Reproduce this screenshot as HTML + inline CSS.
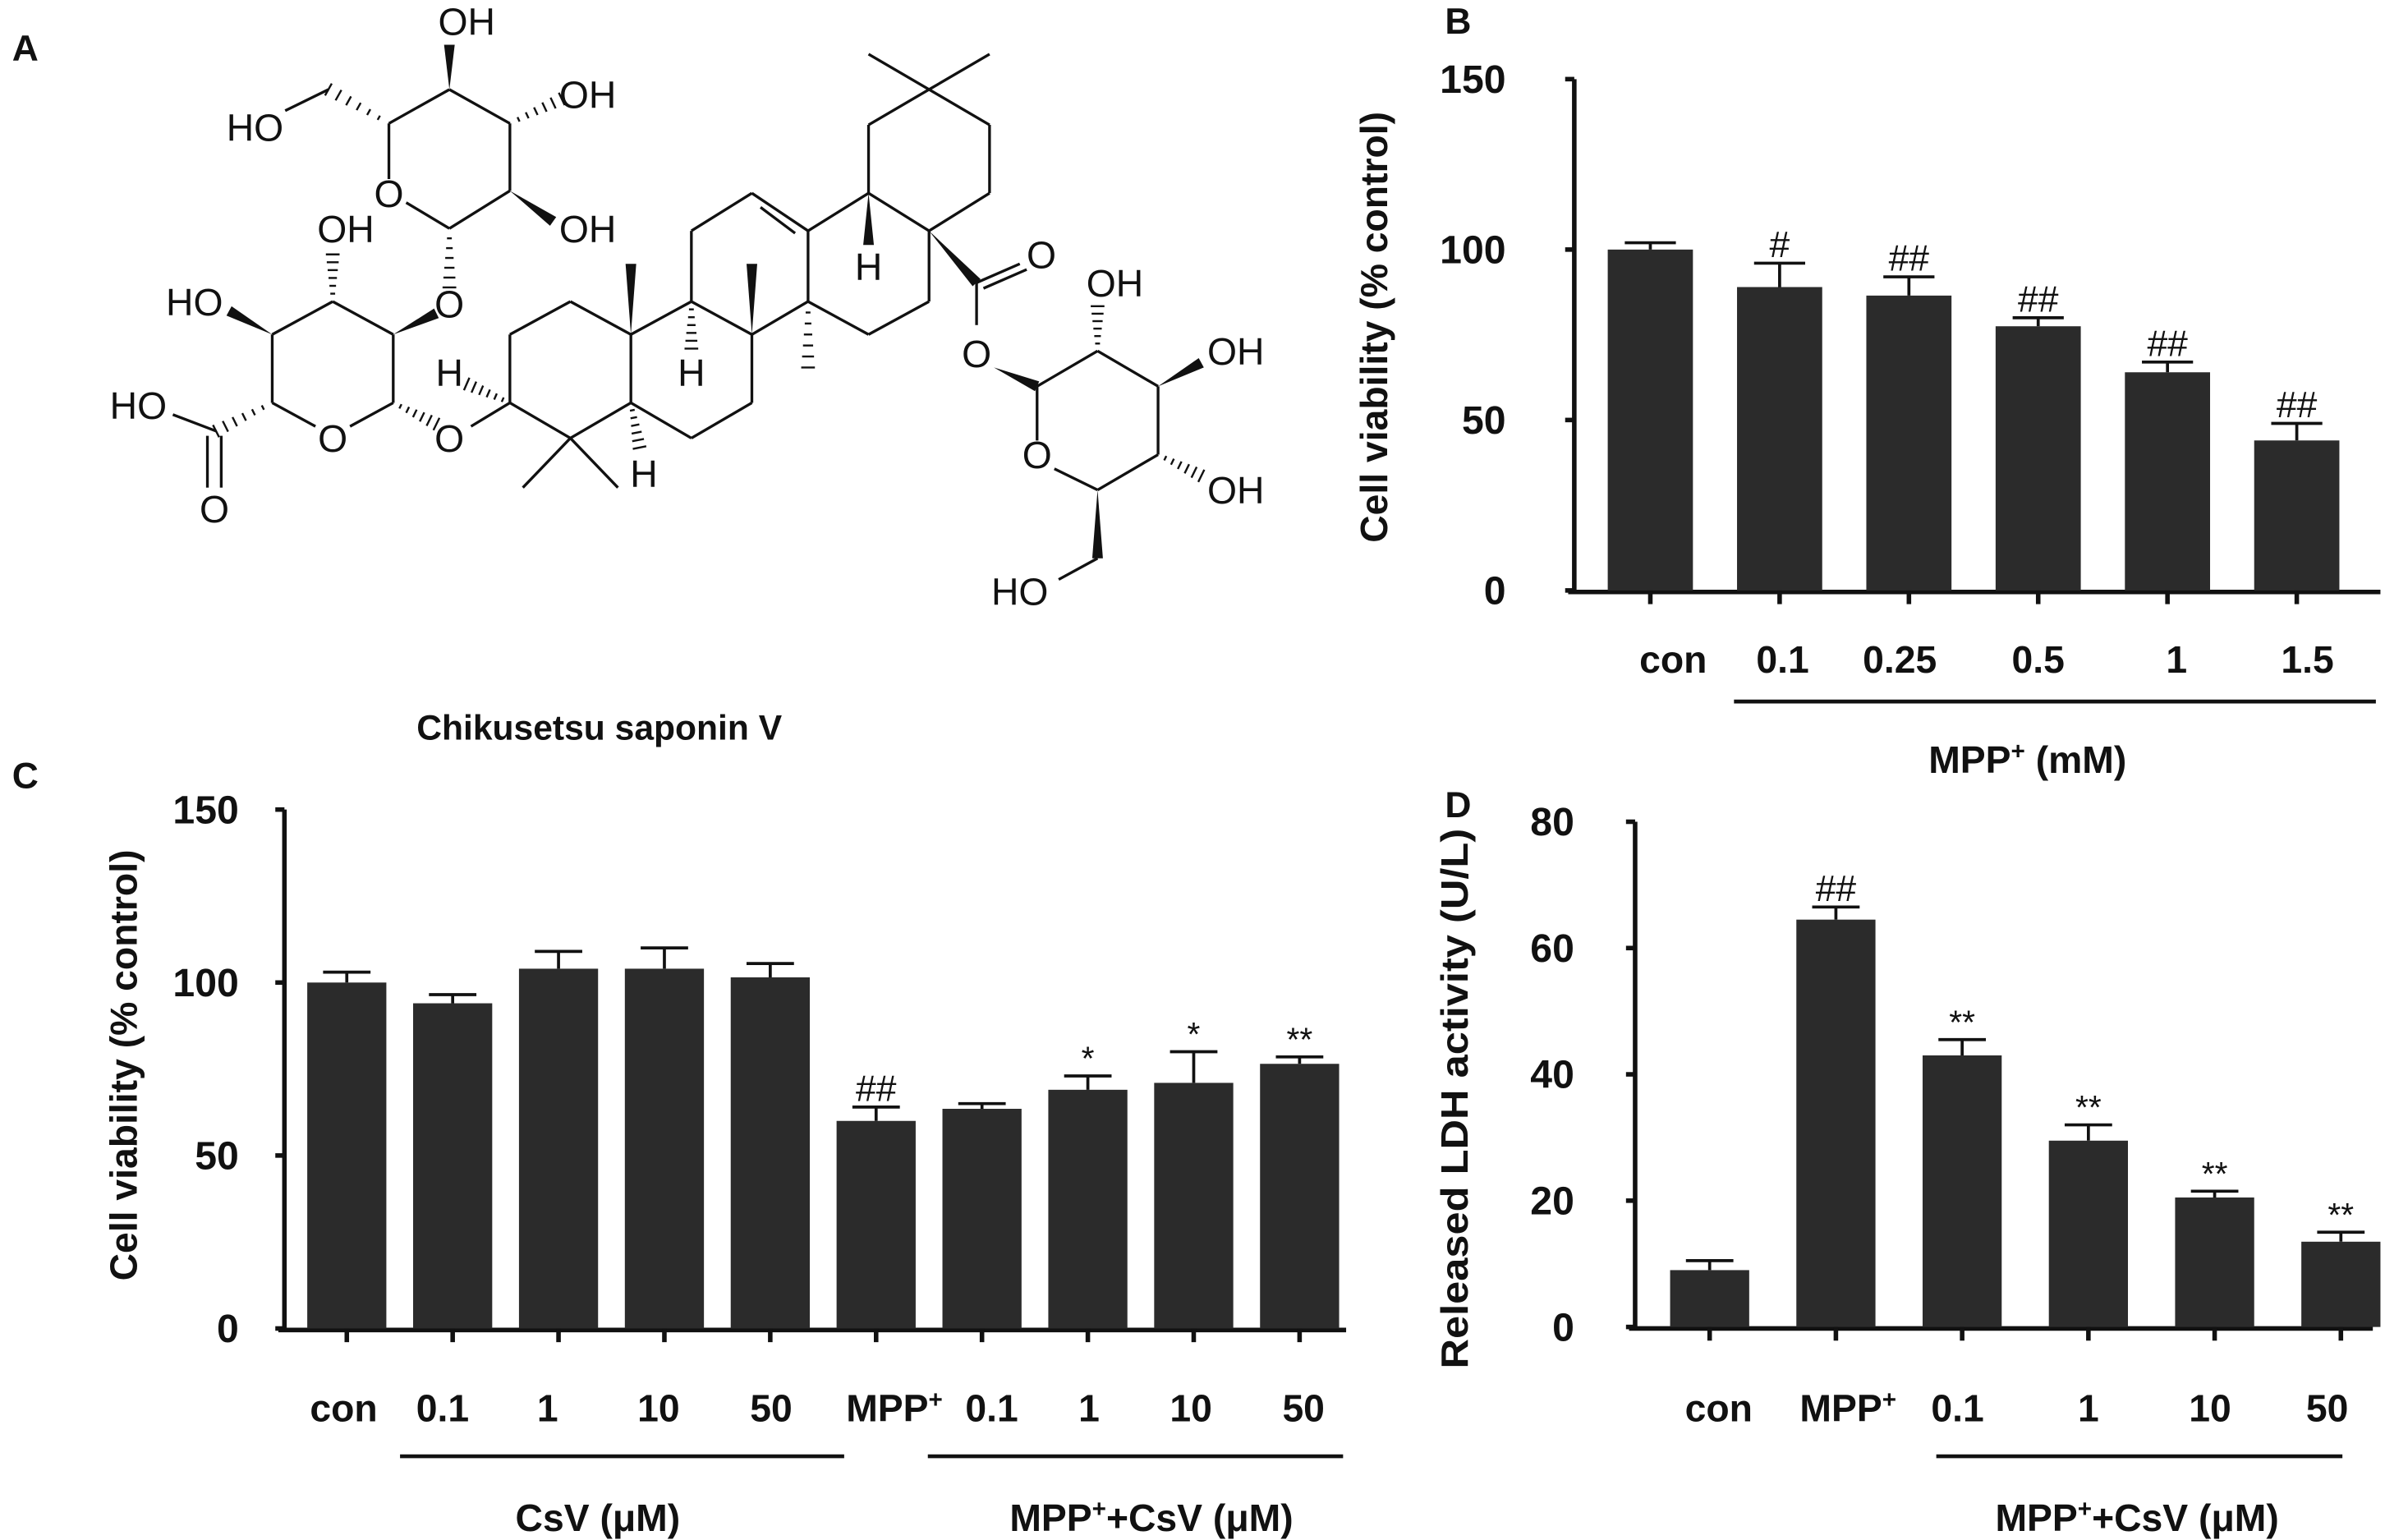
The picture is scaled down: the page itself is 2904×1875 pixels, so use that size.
<!DOCTYPE html>
<html><head><meta charset="utf-8">
<style>
html,body{margin:0;padding:0;background:#fff;}
svg{display:block;}
text{font-family:"Liberation Sans",sans-serif;fill:#111;}
.b{font-weight:bold;}
</style></head>
<body>
<svg id="fig" width="2904" height="1875" viewBox="0 0 1568 1012" preserveAspectRatio="none" xmlns="http://www.w3.org/2000/svg">
<g id="mol"></g>
<g id="pB"></g>
<g id="pC"></g>
<g id="pD"></g>
<text x="8" y="40" class="b" font-size="24">A</text>
<text x="950" y="22" class="b" font-size="24">B</text>
<text x="8" y="518" class="b" font-size="24">C</text>
<text x="950" y="537" class="b" font-size="24">D</text>
<text x="394" y="486" class="b" font-size="23" text-anchor="middle">Chikusetsu saponin V</text>
</svg>
<script>
// ---- Panel B data ----
const bCats=["con","0.1","0.25","0.5","1","1.5"];
const bVals=[100,89,86.5,77.5,64,44];
const bErrs=[2,7,5.5,2.5,3,5];
const bMarks=["","#","##","##","##","##"];
const bTicks=[0,50,100,150];
// ---- Panel C data ----
const cCats=["con","0.1","1","10","50","MPP+","0.1","1","10","50"];
const cVals=[100,94,104,104,101.5,60,63.5,69,71,76.5];
const cErrs=[3,2.5,5,6,4,4,1.5,4,9,2];
const cMarks=["","","","","","##","","*","*","**"];
const cTicks=[0,50,100,150];
// ---- Panel D data ----
const dCats=["con","MPP+","0.1","1","10","50"];
const dVals=[9,64.5,43,29.5,20.5,13.5];
const dErrs=[1.5,2,2.5,2.5,1,1.5];
const dMarks=["","##","**","**","**","**"];
const dTicks=[0,20,40,60,80];

const NS="http://www.w3.org/2000/svg";
function mk(parent,tag,attrs,txt){const e=document.createElementNS(NS,tag);for(const k in attrs)e.setAttribute(k,attrs[k]);if(txt!==undefined)e.textContent=txt;parent.appendChild(e);return e;}

function chart(g,cfg){
  const y=v=>cfg.y0-(v-0)*(cfg.y0-cfg.yTop)/cfg.max;
  const x=i=>cfg.x0c+i*cfg.step;
  let ax=mk(g,'line',{x1:cfg.ax,y1:cfg.yTop,x2:cfg.ax,y2:cfg.y0+2,stroke:'#111','stroke-width':3});
  
  
  let xa=mk(g,'line',{x1:cfg.ax-4,y1:cfg.y0+1,x2:cfg.xEnd,y2:cfg.y0+1,stroke:'#111','stroke-width':3});
  
  
  cfg.ticks.forEach(t=>{
    const tk=mk(g,'line',{x1:cfg.ax-6,y1:y(t),x2:cfg.ax,y2:y(t),stroke:'#111','stroke-width':3});
    
    
    const tl=mk(g,'text',{x:cfg.ax-cfg.tlOff,y:y(t)+9,'text-anchor':'end','font-size':26,'class':'b'},String(t));
    
    
  });
  cfg.vals.forEach((v,i)=>{
    const cx=x(i);
    const er=mk(g,'path',{d:`M${cx} ${y(v)} V${y(v+cfg.errs[i])} M${cx-cfg.w*0.3} ${y(v+cfg.errs[i])} H${cx+cfg.w*0.3}`,stroke:'#111','stroke-width':2,fill:'none'});
    
    
    const r=mk(g,'rect',{x:cx-cfg.w/2,y:y(v),width:cfg.w,height:y(0)-y(v),fill:'#2b2b2b'});
    
    
    const tk=mk(g,'line',{x1:cx,y1:cfg.y0,x2:cx,y2:cfg.y0+9,stroke:'#111','stroke-width':3});
    
    
    if(cfg.marks[i]){
      const m=mk(g,'text',{x:cx,y:y(v+cfg.errs[i])-4,'text-anchor':'middle','font-size':cfg.marks[i][0]=='*'?22:24},cfg.marks[i]);
      
      
    }
    const lx=cfg.labelX?cfg.labelX[i]:cx;
    const lab=cfg.cats[i]=="MPP+"?null:cfg.cats[i];
    let t;
    if(lab===null){t=mk(g,'text',{x:lx,y:cfg.labY,'text-anchor':'middle','font-size':25,'class':'b'});t.textContent="MPP";mk(t,'tspan',{'font-size':16,dy:-9},"+");}
    else t=mk(g,'text',{x:lx,y:cfg.labY,'text-anchor':'middle','font-size':25,'class':'b'},lab);
    
    
  });
  const ta={x:0,y:0,transform:`translate(${cfg.titleX},${cfg.titleY}) rotate(-90)`,'text-anchor':'middle','font-size':25,'class':'b'};
  if(cfg.titleLen){ta.textLength=cfg.titleLen;ta.lengthAdjust='spacingAndGlyphs';}
  const yt=mk(g,'text',ta,cfg.title);
  
  
}
function grp(g,x1,x2,yl,ty,parts,cx){
  const l=mk(g,'line',{x1:x1,y1:yl,x2:x2,y2:yl,stroke:'#111','stroke-width':2.5});
  
  
  const t=mk(g,'text',{x:cx,y:ty,'text-anchor':'middle','font-size':25,'class':'b'});
  
  
  parts.forEach(p=>{ if(p.sup) mk(t,'tspan',{'font-size':16,dy:-9},p.s); else if(p.down) mk(t,'tspan',{dy:9},p.s); else mk(t,'tspan',{},p.s);});
}
const B=document.getElementById('pB');
chart(B,{cats:bCats,vals:bVals,errs:bErrs,marks:bMarks,ticks:bTicks,max:150,y0:388,yTop:52,ax:1035,xEnd:1565,x0c:1085,step:85,w:56,tlOff:45,labY:442,labelX:[1100,1172,1249,1340,1431,1517],title:"Cell viability (% control)",titleX:912,titleY:215});
grp(B,1140,1562,461,508,[{s:"MPP"},{s:"+",sup:1},{s:" (mM)",down:1}],1333);
const C=document.getElementById('pC');
chart(C,{cats:cCats,vals:cVals,errs:cErrs,marks:cMarks,ticks:cTicks,max:150,y0:873,yTop:532,ax:187,xEnd:885,x0c:228,step:69.6,w:52,tlOff:30,labY:934,labelX:[226,291,360,433,507,588,652,716,783,857],title:"Cell viability (% control)",titleX:90,titleY:700});
grp(C,263,555,957,1006,[{s:"CsV (μM)"}],393);
grp(C,610,883,957,1006,[{s:"MPP"},{s:"+",sup:1},{s:"+CsV (μM)",down:1}],757);
const D=document.getElementById('pD');
chart(D,{cats:dCats,vals:dVals,errs:dErrs,marks:dMarks,ticks:dTicks,max:80,y0:872,yTop:540,ax:1075,xEnd:1560,x0c:1124,step:83,w:52,tlOff:40,labY:934,labelX:[1130,1215,1287,1373,1453,1530],title:"Released LDH activity (U/L)",titleX:965,titleY:722,titleLen:355});
grp(D,1273,1540,957,1006,[{s:"MPP"},{s:"+",sup:1},{s:"+CsV (μM)",down:1}],1405);

// ---- molecule ----
const M=document.getElementById('mol');
const P=(a,b)=>[a/1.76,b/3.23];
function bond(a,b,c,d){mk(M,'line',{x1:P(a,b)[0],y1:P(a,b)[1],x2:P(c,d)[0],y2:P(c,d)[1],stroke:'#111','stroke-width':1.8});}
function path(pts){for(let i=0;i<pts.length-1;i++)bond(pts[i][0],pts[i][1],pts[i+1][0],pts[i+1][1]);}
function wedge(a,b,c,d){const p=P(a,b),q=P(c,d);const dx=q[0]-p[0],dy=q[1]-p[1],L=Math.hypot(dx,dy),nx=-dy/L*3.5,ny=dx/L*3.5;mk(M,'polygon',{points:`${p[0]},${p[1]} ${q[0]+nx},${q[1]+ny} ${q[0]-nx},${q[1]-ny}`,fill:'#111'});}
function hash(a,b,c,d){const p=P(a,b),q=P(c,d);const n=6;const dx=q[0]-p[0],dy=q[1]-p[1],L=Math.hypot(dx,dy);for(let i=1;i<=n;i++){const t=i/n,w=1+t*3.5;const cx=p[0]+dx*t,cy=p[1]+dy*t,nx=-dy/L*w,ny=dx/L*w;mk(M,'line',{x1:cx+nx,y1:cy+ny,x2:cx-nx,y2:cy-ny,stroke:'#111','stroke-width':1.3});}}
function lab(s,a,b){mk(M,'text',{x:P(a,b)[0],y:P(a,b)[1]+9,'text-anchor':'middle','font-size':25},s);}
path([[450,262],[520,190],[590,262],[590,405],[520,485],[470,430]]);bond(450,380,450,262);
hash(450,262,380,190);bond(380,190,330,235);wedge(520,190,520,95);hash(590,262,650,210);wedge(590,405,640,470);hash(520,485,520,610);
lab("HO",295,270);lab("OH",540,45);lab("OH",680,200);lab("OH",680,485);lab("O",450,410);lab("O",520,645);
path([[385,640],[455,710],[455,855],[405,905]]);path([[365,905],[315,855],[315,710],[385,640]]);
hash(385,640,385,540);wedge(315,710,265,660);wedge(455,710,505,665);hash(455,855,505,900);hash(315,855,250,915);
bond(250,915,200,880);bond(240,925,240,1035);bond(256,925,256,1035);
lab("OH",400,485);lab("HO",225,640);lab("O",385,930);lab("O",520,930);lab("HO",160,860);lab("O",248,1080);
bond(545,905,590,855);
path([[590,855],[590,710],[660,640],[730,710],[730,855],[660,930],[590,855]]);
bond(660,930,605,1035);bond(660,930,715,1035);hash(590,855,540,815);hash(730,855,740,950);wedge(730,710,730,560);
path([[730,710],[800,640],[870,710],[870,855],[800,930],[730,855]]);hash(800,640,800,740);wedge(870,710,870,560);
path([[800,640],[800,490],[870,410],[935,490],[935,640],[870,710]]);bond(880,440,920,495);hash(935,640,935,780);
path([[935,490],[1005,410],[1075,490],[1075,640],[1005,710],[935,640]]);wedge(1005,410,1005,520);
path([[1005,410],[1005,265],[1075,190],[1145,265],[1145,410],[1075,490]]);bond(1075,190,1005,115);bond(1075,190,1145,115);
wedge(1075,490,1130,600);bond(1130,600,1180,560);bond(1138,612,1188,572);bond(1130,600,1130,690);
lab("H",520,790);lab("H",800,790);lab("H",745,1005);lab("H",1005,565);lab("O",1205,540);lab("O",1130,750);
wedge(1150,780,1200,820);
path([[1200,820],[1270,745],[1340,820],[1340,965],[1270,1040],[1220,995]]);bond(1200,935,1200,820);
hash(1270,745,1270,650);wedge(1340,820,1390,770);hash(1340,965,1390,1010);wedge(1270,1040,1270,1185);bond(1270,1185,1225,1230);
lab("O",1200,965);lab("OH",1290,600);lab("OH",1430,745);lab("OH",1430,1040);lab("HO",1180,1255);
</script>
</body></html>
